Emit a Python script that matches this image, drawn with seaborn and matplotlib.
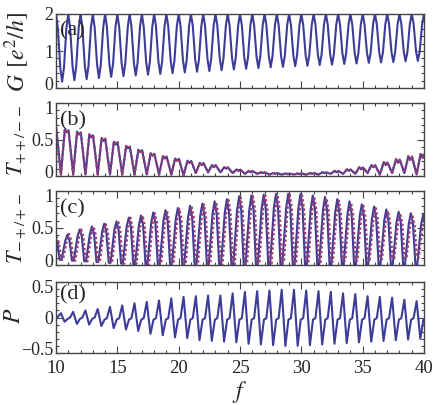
import numpy as np
import pandas as pd
import matplotlib
matplotlib.use("Agg")
import matplotlib.pyplot as plt
import matplotlib.transforms as mtrans
import seaborn as sns
from matplotlib.ticker import MultipleLocator, FixedLocator

# ---------------- data ----------------
# (a) conductance G: maxima at integer f, minima half-way, plus readings on the flanks
G_max_f = list(range(10, 41))
G_max = [2.0] * 31
G_min_f = [k + 0.5 for k in range(10, 40)]
G_min = [0.17, 0.21, 0.24, 0.27, 0.30, 0.32, 0.34, 0.36, 0.38, 0.40,
         0.42, 0.44, 0.46, 0.48, 0.50, 0.52, 0.54, 0.56, 0.57, 0.59,
         0.60, 0.62, 0.63, 0.65, 0.66, 0.68, 0.69, 0.70, 0.72, 0.73]
G_low_flank = [0.55, 0.58, 0.60, 0.63, 0.65, 0.67, 0.68, 0.70, 0.71, 0.73,
               0.75, 0.76, 0.78, 0.79, 0.81, 0.82, 0.84, 0.86, 0.86, 0.88,
               0.89, 0.90, 0.91, 0.93, 0.94, 0.95, 0.96, 0.97, 0.98, 0.99]
G_high_flank = [1.62, 1.63, 1.64, 1.64, 1.65, 1.65, 1.66, 1.66, 1.67, 1.67,
                1.68, 1.68, 1.68, 1.69, 1.69, 1.70, 1.70, 1.70, 1.71, 1.71,
                1.71, 1.72, 1.72, 1.72, 1.72, 1.73, 1.73, 1.73, 1.74, 1.74]

# (b) T_{++/--}: per cycle k = 10..40 (double-humped top, narrow dip)
b_cycles = list(range(10, 41))
b_peak = [0.66, 0.64, 0.61, 0.57, 0.52, 0.47, 0.41, 0.36, 0.31, 0.27,
          0.24, 0.21, 0.18, 0.15, 0.12, 0.09, 0.07, 0.05, 0.04, 0.035,
          0.035, 0.04, 0.05, 0.07, 0.09, 0.12, 0.15, 0.19, 0.23, 0.27, 0.30]
b_notch = [0.62, 0.60, 0.57, 0.53, 0.48, 0.43, 0.38, 0.33, 0.28, 0.24,
           0.21, 0.18, 0.15, 0.12, 0.10, 0.07, 0.05, 0.04, 0.03, 0.025,
           0.025, 0.03, 0.04, 0.05, 0.07, 0.09, 0.12, 0.15, 0.18, 0.22, 0.25]
b_dip = [0.02, 0.02, 0.02, 0.02, 0.02, 0.02, 0.02, 0.02, 0.02, 0.02,
         0.01, 0.04, 0.05, 0.05, 0.04, 0.03, 0.03, 0.02, 0.02, 0.02,
         0.02, 0.02, 0.03, 0.03, 0.03, 0.04, 0.02, 0.04, 0.04, 0.02, 0.02]

# (c) T_{-+/+-}: solid and dotted, per cycle k = 10..40
c_cycles = list(range(10, 41))
c_solid_peak = [0.38, 0.41, 0.48, 0.52, 0.56, 0.59, 0.64, 0.67, 0.71, 0.74,
                0.77, 0.80, 0.83, 0.86, 0.89, 0.93, 0.94, 0.95, 0.96, 0.96,
                0.96, 0.94, 0.92, 0.89, 0.86, 0.82, 0.79, 0.75, 0.72, 0.70, 0.68]
c_solid_flank = [0.31, 0.33, 0.39, 0.42, 0.45, 0.48, 0.52, 0.54, 0.57, 0.60,
                 0.62, 0.64, 0.67, 0.69, 0.71, 0.74, 0.75, 0.76, 0.77, 0.77,
                 0.77, 0.75, 0.74, 0.71, 0.69, 0.66, 0.63, 0.60, 0.58, 0.56, 0.54]
c_solid_min = [0.07, 0.06, 0.05, 0.04, 0.03, 0.02, 0.01, 0.0, 0.0, 0.0,
               0.0, 0.0, 0.0, 0.0, 0.0, 0.0, 0.0, 0.0, 0.0, 0.0,
               0.0, 0.0, 0.0, 0.0, 0.0, 0.0, 0.0, 0.0, 0.0, 0.0, 0.0]
c_dot_peak = [0.38, 0.42, 0.48, 0.52, 0.56, 0.60, 0.64, 0.67, 0.70, 0.73,
              0.76, 0.79, 0.82, 0.85, 0.88, 0.91, 0.93, 0.94, 0.95, 0.95,
              0.94, 0.92, 0.90, 0.87, 0.84, 0.80, 0.77, 0.73, 0.70, 0.67, 0.64]
c_dot_flank = [0.31, 0.34, 0.39, 0.42, 0.45, 0.49, 0.52, 0.54, 0.57, 0.59,
               0.62, 0.64, 0.66, 0.69, 0.71, 0.74, 0.75, 0.76, 0.77, 0.77,
               0.76, 0.75, 0.73, 0.71, 0.68, 0.65, 0.63, 0.60, 0.57, 0.55, 0.52]
c_dot_min = [0.07, 0.06, 0.05, 0.04, 0.03, 0.02, 0.02, 0.01, 0.01, 0.01,
             0.01, 0.01, 0.01, 0.01, 0.01, 0.02, 0.02, 0.02, 0.03, 0.03,
             0.03, 0.04, 0.05, 0.06, 0.06, 0.07, 0.08, 0.09, 0.09, 0.10, 0.10]

# (d) P: per cycle k = 9..39 (sharp peak, trough, shoulder near zero)
d_cycles = list(range(9, 40))
d_peak = [0.05, 0.06, 0.08, 0.10, 0.12, 0.15, 0.17, 0.20, 0.22, 0.24,
          0.27, 0.29, 0.30, 0.31, 0.31, 0.34, 0.36, 0.37, 0.38, 0.39,
          0.39, 0.38, 0.37, 0.36, 0.34, 0.33, 0.30, 0.29, 0.28, 0.25, 0.23]
d_trough = [-0.05, -0.06, -0.09, -0.10, -0.12, -0.15, -0.17, -0.19, -0.23, -0.25,
            -0.28, -0.29, -0.32, -0.33, -0.34, -0.35, -0.37, -0.38, -0.39, -0.40,
            -0.40, -0.39, -0.38, -0.37, -0.36, -0.35, -0.34, -0.33, -0.32, -0.31, -0.30]
d_shoulder = [-0.01, -0.02, -0.02, -0.02, -0.03, -0.03, -0.03, -0.03, -0.03, -0.03,
              -0.03, -0.03, -0.03, -0.03, -0.03, -0.03, -0.03, -0.03, -0.03, -0.03,
              -0.03, -0.03, -0.03, -0.03, -0.03, -0.03, -0.03, -0.03, -0.03, -0.03, -0.03]


def assemble(parts):
    xs = np.concatenate([np.asarray(x, float) for x, _ in parts])
    ys = np.concatenate([np.asarray(y, float) for _, y in parts])
    order = np.argsort(xs, kind="stable")
    return pd.DataFrame({"f": xs[order], "v": ys[order]})


k_a = np.array(G_min_f, float)
k_b = np.array(b_cycles, float)
k_c = np.array(c_cycles, float)
k_d = np.array(d_cycles, float)

df_a = assemble([(G_max_f, G_max), (G_min_f, G_min),
                 (k_a - 0.15, G_low_flank), (k_a + 0.15, G_low_flank),
                 (k_a - 0.35, G_high_flank), (k_a + 0.35, G_high_flank)])
df_b = assemble([(k_b - 0.28, b_peak), (k_b - 0.12, b_notch),
                 (k_b + 0.02, np.array(b_peak) * 0.98), (k_b + 0.40, b_dip)])
df_c1 = assemble([(k_c - 0.07, c_solid_peak), (k_c - 0.24, c_solid_flank),
                  (k_c + 0.10, c_solid_flank),
                  (k_c + 0.30, c_solid_min), (k_c + 0.45, c_solid_min)])
df_c2 = assemble([(k_c + 0.05, c_dot_peak), (k_c - 0.12, c_dot_flank),
                  (k_c + 0.22, c_dot_flank),
                  (k_c + 0.42, c_dot_min), (k_c + 0.57, c_dot_min)])
df_d = assemble([(k_d + 0.40, d_peak), (k_d + 0.70, d_trough),
                 (k_d + 0.95, d_shoulder), (k_d + 1.15, np.array(d_shoulder) + 0.02)])

# ---------------- style ----------------
sns.set_style("ticks")
plt.rcParams["font.family"] = ["Liberation Serif", "DejaVu Serif"]
plt.rcParams["mathtext.fontset"] = "stix"
plt.rcParams["axes.unicode_minus"] = True

BLUE = "#3d3d99"
MAG = "#993d71"
FRAME = "#444444"

W, H = 436, 405
fig = plt.figure(figsize=(W / 100, H / 100), dpi=100)

def px_axes(top, bottom, left=56, right=424):
    return fig.add_axes([left / W, 1 - bottom / H, (right - left) / W, (bottom - top) / H])

axa = px_axes(14, 88)
axb = px_axes(103, 176)
axc = px_axes(191, 265)
axd = px_axes(282, 353)
axes = [axa, axb, axc, axd]

LW = 1.5
sns.lineplot(data=df_a, x="f", y="v", ax=axa, color=BLUE, lw=LW, estimator=None, sort=False)
sns.lineplot(data=df_b, x="f", y="v", ax=axb, color=BLUE, lw=LW, estimator=None, sort=False)
sns.lineplot(data=df_b, x="f", y="v", ax=axb, color=MAG, lw=1.7, estimator=None, sort=False,
             ls=(0, (1, 1)))
sns.lineplot(data=df_c1, x="f", y="v", ax=axc, color=BLUE, lw=LW, estimator=None, sort=False)
sns.lineplot(data=df_c2, x="f", y="v", ax=axc, color=MAG, lw=1.7, estimator=None, sort=False,
             ls=(0, (1, 1)))
sns.lineplot(data=df_d, x="f", y="v", ax=axd, color=BLUE, lw=LW, estimator=None, sort=False)

ylims = [(0, 2), (0, 1), (0, 1), (-0.5, 0.5)]
yticks = [[0, 1, 2], [0, 0.5, 1], [0, 0.5, 1], [-0.5, 0, 0.5]]
yticklabels = [["0", "1", "2"], ["0", "0.5", "1"], ["0", "0.5", "1"], ["\u22120.5", "0", "0.5"]]
yminor = [0.2, 0.1, 0.1, 0.1]
panel = ["(a)", "(b)", "(c)", "(d)"]
panel_y = [0.77, 0.75, 0.76, 0.82]

for i, ax in enumerate(axes):
    ax.set_xlim(10, 40)
    ax.set_ylim(*ylims[i])
    ax.set_xlabel("")
    ax.set_ylabel("")
    ax.xaxis.set_major_locator(MultipleLocator(5))
    ax.xaxis.set_minor_locator(MultipleLocator(1))
    ax.yaxis.set_major_locator(FixedLocator(yticks[i]))
    ax.set_yticklabels(yticklabels[i])
    ax.yaxis.set_minor_locator(MultipleLocator(yminor[i]))
    ax.tick_params(which="both", direction="in", top=True, right=True,
                   color=FRAME, width=0.8, labelsize=13, pad=2)
    ax.tick_params(which="major", length=5)
    ax.tick_params(which="minor", length=2.5)
    for s in ax.spines.values():
        s.set_color(FRAME)
        s.set_linewidth(1.0)
    if i < 3:
        ax.tick_params(labelbottom=False)
    else:
        ax.set_xticks([10, 15, 20, 25, 30, 35, 40])
        ax.set_xticklabels(["10", "15", "20", "25", "30", "35", "40"])
        ax.tick_params(axis="x", pad=5, labelsize=13.5)
    ax.text(0.012, panel_y[i], panel[i], transform=ax.transAxes, ha="left", va="center",
            fontsize=16)

# nudge the end tick labels inward so neighbouring labels do not collide
for i, ax in enumerate(axes):
    labels = ax.get_yticklabels()
    if i > 0:
        labels[-1].set_transform(labels[-1].get_transform()
                                 + mtrans.ScaledTranslation(0, -3 / 72, fig.dpi_scale_trans))
    labels[0].set_transform(labels[0].get_transform()
                            + mtrans.ScaledTranslation(0, 3.5 / 72, fig.dpi_scale_trans))

def ftext(x, y, s, **kw):
    fig.text(x / W, 1 - y / H, s, **kw)

ftext(17, 52, r"$G\;\,[e^2/h]$", rotation=90, ha="center", va="center", fontsize=17)
ftext(17, 140, r"$T_{++/--}$", rotation=90, ha="center", va="center", fontsize=16)
ftext(17, 228, r"$T_{-+/+-}$", rotation=90, ha="center", va="center", fontsize=16)
ftext(14, 316, r"$P$", rotation=90, ha="center", va="center", fontsize=17)
ftext(240, 392, r"$f$", ha="center", va="center", fontsize=17)

fig.savefig("out.png", dpi=100)
